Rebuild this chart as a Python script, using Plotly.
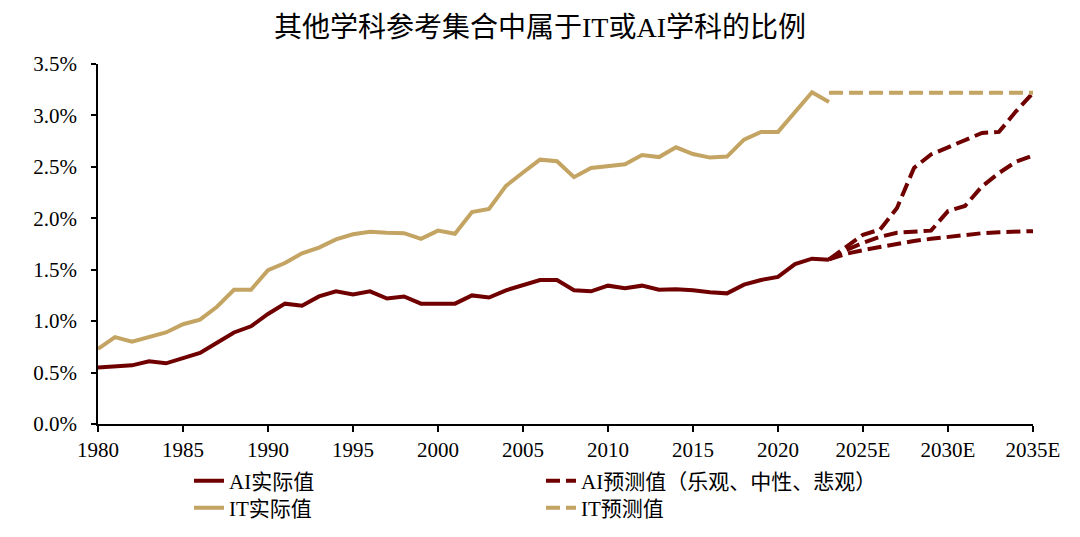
import plotly.graph_objects as go

# ---- data (values in %) ----
years_actual = list(range(1980, 2024))
ai_actual = [0.55, 0.56, 0.57, 0.61, 0.59, 0.64, 0.69, 0.79, 0.89, 0.95,
             1.07, 1.17, 1.15, 1.24, 1.29, 1.26, 1.29, 1.22, 1.24, 1.17,
             1.17, 1.17, 1.25, 1.23, 1.30, 1.35, 1.40, 1.40, 1.30, 1.29,
             1.345, 1.32, 1.345, 1.305, 1.31, 1.30, 1.28, 1.27, 1.355, 1.40,
             1.43, 1.555, 1.607, 1.597]
it_actual = [0.73, 0.845, 0.80, 0.85, 0.89, 0.97, 1.015, 1.14, 1.305, 1.305,
             1.495, 1.565, 1.66, 1.715, 1.795, 1.845, 1.87, 1.86, 1.855, 1.80,
             1.88, 1.85, 2.06, 2.09, 2.315, 2.445, 2.57, 2.555, 2.40, 2.49,
             2.505, 2.525, 2.615, 2.595, 2.69, 2.625, 2.59, 2.60, 2.765, 2.84,
             2.84, 3.04, 3.225, 3.13]

years_fc = list(range(2023, 2036))
ai_fc_opt = [1.60, 1.72, 1.84, 1.89, 2.10, 2.49, 2.62, 2.69, 2.76, 2.83, 2.84, 3.04, 3.22]
ai_fc_mid = [1.60, 1.69, 1.76, 1.82, 1.86, 1.87, 1.88, 2.07, 2.12, 2.31, 2.44, 2.55, 2.61]
ai_fc_pes = [1.60, 1.655, 1.69, 1.72, 1.745, 1.78, 1.80, 1.82, 1.84, 1.855, 1.865, 1.87, 1.875]
it_fc = [3.22, 3.22, 3.22, 3.22, 3.22, 3.22, 3.22, 3.22, 3.22, 3.22, 3.22, 3.22, 3.22]

tick_years = [1980, 1985, 1990, 1995, 2000, 2005, 2010, 2015, 2020, 2025, 2030, 2035]
tick_labels = ["1980", "1985", "1990", "1995", "2000", "2005", "2010", "2015", "2020",
               "2025E", "2030E", "2035E"]

# ---- style ----
AI_COLOR = "#700000"
IT_COLOR = "#C4A462"
FONT = "Liberation Serif, Times New Roman, Noto Sans CJK SC, serif"
DASH = "14px,6px"
LW = 4

fig = go.Figure()
fig.add_trace(go.Scatter(x=years_actual, y=ai_actual, mode="lines", name="AI实际值",
                         legend="legend",
                         line=dict(color=AI_COLOR, width=LW)))
fig.add_trace(go.Scatter(x=years_fc, y=ai_fc_opt, mode="lines", name="AI预测值（乐观、中性、悲观）",
                         legend="legend2",
                         line=dict(color=AI_COLOR, width=LW, dash=DASH)))
fig.add_trace(go.Scatter(x=years_actual, y=it_actual, mode="lines", name="IT实际值",
                         legend="legend3",
                         line=dict(color=IT_COLOR, width=LW)))
fig.add_trace(go.Scatter(x=years_fc, y=it_fc, mode="lines", name="IT预测值",
                         legend="legend4",
                         line=dict(color=IT_COLOR, width=LW, dash=DASH)))
fig.add_trace(go.Scatter(x=years_fc, y=ai_fc_mid, mode="lines", showlegend=False,
                         line=dict(color=AI_COLOR, width=LW, dash=DASH)))
fig.add_trace(go.Scatter(x=years_fc, y=ai_fc_pes, mode="lines", showlegend=False,
                         line=dict(color=AI_COLOR, width=LW, dash=DASH)))

W, H = 1064, 521


def leg(xpage, ypage):
    return dict(orientation="h", xref="container", yref="container",
                x=(xpage - 8) / W, y=1 - (ypage - 8) / H,
                xanchor="left", yanchor="middle",
                font=dict(family=FONT, size=21, color="black"),
                itemwidth=30, bgcolor="rgba(0,0,0,0)", borderwidth=0)


fig.update_layout(
    width=W, height=H,
    margin=dict(l=90, r=39, t=56, b=105, autoexpand=False),
    paper_bgcolor="white", plot_bgcolor="white",
    font=dict(family=FONT, size=21, color="black"),
    title=dict(text="其他学科参考集合中属于IT或AI学科的比例", x=(540 - 8) / W, xanchor="center",
               y=1 - 19 / H, yanchor="middle", yref="container", xref="container",
               font=dict(family=FONT, size=28, color="black")),
    showlegend=True,
    legend=leg(189, 481),
    legend2=leg(541, 481),
    legend3=leg(189, 508),
    legend4=leg(541, 508),
    xaxis=dict(range=[1980, 2035], tickmode="array", tickvals=tick_years, ticktext=tick_labels,
               showgrid=False, zeroline=False, showline=True, linecolor="black", linewidth=1.5,
               ticks="outside", ticklen=6, tickwidth=1.5, tickcolor="black",
               tickfont=dict(family=FONT, size=21, color="black")),
    yaxis=dict(range=[0, 3.5], tickmode="linear", tick0=0, dtick=0.5, tickformat=".1f",
               ticksuffix="%", showgrid=False, zeroline=False, showline=True,
               linecolor="black", linewidth=1.5, ticks="outside", ticklen=5, tickwidth=1.5,
               tickcolor="black", ticklabelstandoff=10,
               tickfont=dict(family=FONT, size=21, color="black")),
)

fig.write_html("out.html")
